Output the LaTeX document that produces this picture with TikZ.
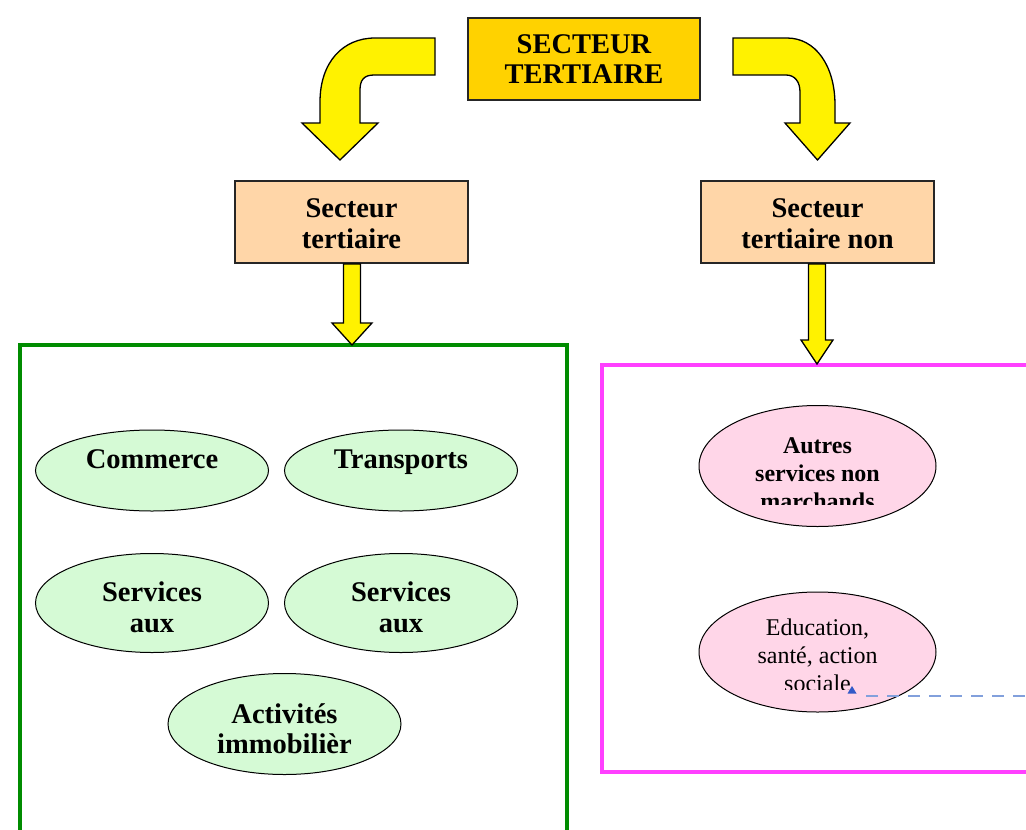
\documentclass[tikz,border=0pt]{standalone}
\usepackage{fontspec}
\setmainfont{Liberation Serif}
\usetikzlibrary{shapes.geometric}
\definecolor{gold}{RGB}{255,210,0}
\definecolor{peach}{RGB}{255,214,168}
\definecolor{lgreen}{RGB}{213,250,213}
\definecolor{dgreen}{RGB}{0,140,0}
\definecolor{magen}{RGB}{255,64,255}
\definecolor{lpink}{RGB}{255,214,232}
\definecolor{dashblue}{RGB}{130,160,220}
\definecolor{tripblue}{RGB}{50,90,200}
\begin{document}
\begin{tikzpicture}[x=1pt,y=-1pt,
  box/.style={draw=black!85, line width=1.2pt, minimum width=233pt, minimum height=82pt, inner sep=0pt},
  bigtxt/.style={font=\fontsize{28.5}{31}\selectfont\bfseries, align=center, inner sep=0pt, anchor=base},
  pinktxt/.style={font=\fontsize{24}{28}\selectfont, align=center, inner sep=0pt, anchor=base},
  gell/.style={draw=black, line width=1pt, fill=lgreen, ellipse, minimum width=233pt, minimum height=81pt, inner sep=0pt},
  pell/.style={draw=black, line width=1pt, fill=lpink, ellipse, minimum width=237pt, minimum height=121pt, inner sep=0pt},
  bigarrow/.style={draw=black, line width=1.3pt, fill=yellow, line join=miter},
  frame/.style={line width=4pt}
]
\useasboundingbox (0,0) rectangle (1026,830);
\clip (0,0) rectangle (1026,830);

% top box
\node[box, fill=gold, minimum width=232pt] (top) at (584,59) {};
\node[bigtxt] (topt1) at (584,53) {SECTEUR};
\node[bigtxt] (topt2) at (584,83) {TERTIAIRE};

% curved arrows
\path[bigarrow] (435,38) -- (375,38) .. controls (343,38) and (320,62) .. (320,102) -- (320,123)
  -- (302,123) -- (340,160) -- (378,123) -- (360,123) -- (360,90)
  .. controls (360,80) and (364,75) .. (374,75) -- (435,75) -- cycle;
\path[bigarrow] (733,38) -- (787,38) .. controls (815,38) and (835,65) .. (835,105) -- (835,123)
  -- (850,123) -- (817.5,160) -- (785,123) -- (800,123) -- (800,92)
  .. controls (800,82) and (795,75) .. (786,75) -- (733,75) -- cycle;

% middle boxes
\node[box, fill=peach] (ml) at (351.5,222) {};
\node[bigtxt] (mlt1) at (351.5,217) {Secteur};
\node[bigtxt] (mlt2) at (351.5,248) {tertiaire};
\node[box, fill=peach] (mr) at (817.5,222) {};
\node[bigtxt] (mrt1) at (817.5,217) {Secteur};
\node[bigtxt] (mrt2) at (817.5,248) {tertiaire non};

% frames
\draw[frame, draw=dgreen] (20,345) rectangle (567,845);
\draw[frame, draw=magen] (602,365) rectangle (1045,772);

% straight down arrows
\path[bigarrow] (343.5,264) -- (360.5,264) -- (360.5,323) -- (372,323) -- (352,345) -- (332,323) -- (343.5,323) -- cycle;
\path[bigarrow] (808.5,264) -- (825.5,264) -- (825.5,340) -- (833,340) -- (817,364) -- (801,340) -- (808.5,340) -- cycle;

% green ellipses
\node[gell] (com) at (152,470.5) {};
\node[bigtxt] (comt) at (152,468) {Commerce};
\node[gell] (tra) at (401,470.5) {};
\node[bigtxt] (trat) at (401,468) {Transports};
\node[gell, minimum height=99pt] (sa1) at (152,603) {};
\node[bigtxt] (sa1t1) at (152,601) {Services};
\node[bigtxt] (sa1t2) at (152,632) {aux};
\node[gell, minimum height=99pt] (sa2) at (401,603) {};
\node[bigtxt] (sa2t1) at (401,601) {Services};
\node[bigtxt] (sa2t2) at (401,632) {aux};
\node[gell, minimum height=101pt] (act) at (284.5,724) {};
\node[bigtxt] (actt1) at (284.5,723) {Activités};
\node[bigtxt] (actt2) at (284.5,753) {immobilièr};

% pink ellipses
\node[pell] (aut) at (817.5,466) {};
\begin{scope}
  \clip (700,420) rectangle (935,504);
  \node[pinktxt, font=\fontsize{24}{28}\selectfont\bfseries] (autt1) at (817.5,453) {Autres};
  \node[pinktxt, font=\fontsize{24}{28}\selectfont\bfseries] (autt2) at (817.5,481) {services non};
  \node[pinktxt, font=\fontsize{24}{28}\selectfont\bfseries] (autt3) at (817.5,509) {marchands};
\end{scope}
\node[pell, minimum height=120pt] (edu) at (817.5,652) {};
\begin{scope}
  \clip (700,605) rectangle (935,689);
  \node[pinktxt] (edut1) at (817.5,635) {Education,};
  \node[pinktxt] (edut2) at (817.5,663) {santé, action};
  \node[pinktxt] (edut3) at (817.5,691) {sociale};
\end{scope}

% dashed connector
\coordinate (dA) at (866,696);
\coordinate (dB) at (1030,696);
\draw[dashblue, line width=1.2pt, dash pattern=on 12pt off 9pt] (dA) -- (dB);
\fill[tripblue] (847.5,693.5) -- (856.5,693.5) -- (852,686) -- cycle;
\end{tikzpicture}
\end{document}
